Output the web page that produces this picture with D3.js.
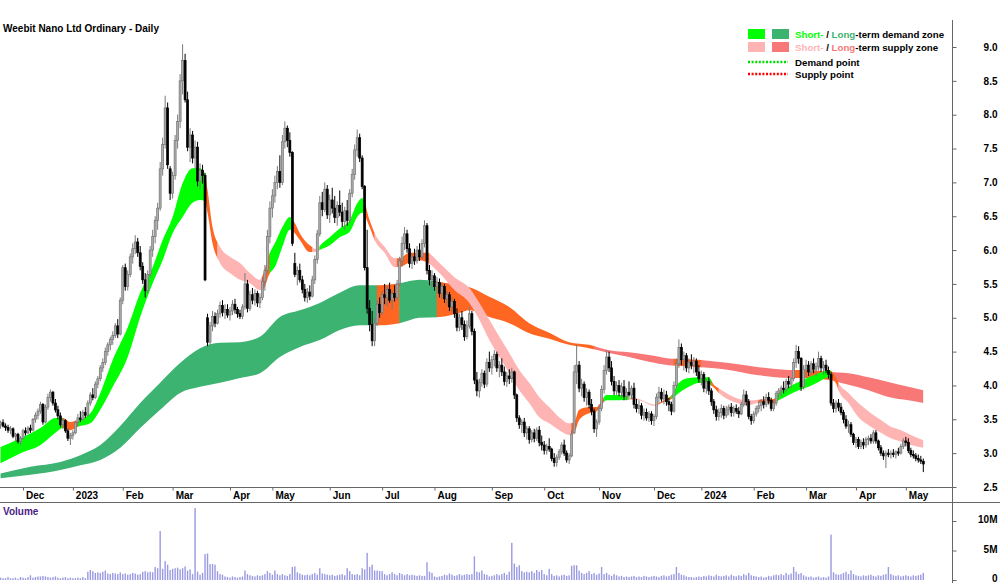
<!DOCTYPE html>
<html><head><meta charset="utf-8">
<script src="https://cdn.jsdelivr.net/npm/d3@7"></script>
<style>
html,body{margin:0;padding:0;background:#fff;}
svg{display:block;font-family:"Liberation Sans",Arial,sans-serif;}
</style></head><body>
<svg id="chart" width="1000" height="583"></svg>
<script>
const title = "Weebit Nano Ltd Ordinary - Daily";
const firstDay = "2022-11-18";
const holidays = ["2022-12-26","2022-12-27","2023-01-02","2023-01-26","2023-04-07","2023-04-10","2023-04-25","2023-06-12","2023-12-25","2023-12-26","2024-01-01","2024-01-26","2024-03-29","2024-04-01","2024-04-25"];

const opens = [3.42,3.45,3.40,3.38,3.34,3.36,3.25,3.28,3.17,3.22,
3.33,3.30,3.37,3.34,3.50,3.56,3.62,3.72,3.46,3.68,
3.82,3.90,3.74,3.64,3.55,3.42,3.48,3.33,3.22,3.26,
3.30,3.45,3.52,3.50,3.60,3.56,3.74,3.86,3.82,4.02,
4.10,4.26,4.34,4.50,4.60,4.68,4.74,4.88,4.76,5.26,
5.74,5.46,5.64,5.90,6.02,6.12,5.96,5.76,5.56,5.40,
5.64,6.00,6.20,6.44,6.62,7.20,7.56,8.10,7.20,6.84,
7.10,7.62,7.90,8.50,8.80,8.22,7.52,7.70,7.36,7.52,
7.02,7.18,7.10,5.00,4.64,4.88,5.02,4.92,5.06,5.18,
5.08,5.12,5.04,5.10,5.20,5.12,5.06,5.02,5.16,5.50,
5.14,5.34,5.26,5.36,5.22,5.30,5.54,5.70,6.20,6.62,
6.80,7.00,7.16,7.00,7.60,7.80,7.62,7.44,5.80,5.64,
5.70,5.56,5.42,5.30,5.38,5.32,5.56,5.86,6.24,6.70,
6.60,6.90,6.52,6.74,6.62,6.48,6.66,6.56,6.42,6.58,
6.44,6.84,7.12,7.48,7.66,7.36,6.94,5.74,5.14,4.90,
4.66,4.92,5.20,5.08,5.34,5.30,5.42,5.26,5.36,5.30,
5.50,5.84,6.10,6.24,6.02,5.80,5.90,5.84,6.00,5.90,
6.10,6.36,5.70,5.56,5.62,5.46,5.52,5.36,5.46,5.28,
5.34,5.16,5.24,5.06,4.86,5.00,4.90,4.72,4.88,5.06,
4.80,4.08,3.92,4.04,4.18,4.02,4.34,4.26,4.38,4.46,
4.26,4.30,4.20,4.06,4.14,4.10,4.20,3.86,3.52,3.42,
3.46,3.30,3.36,3.20,3.30,3.22,3.34,3.16,3.12,3.04,
3.10,3.06,2.92,2.86,2.94,3.02,3.12,3.00,2.90,2.96,
3.30,4.20,4.30,3.96,4.02,3.82,3.90,3.72,3.62,3.36,
3.46,3.66,3.94,4.22,4.42,4.26,4.06,3.92,4.00,3.90,
3.98,3.84,3.90,3.86,3.96,3.72,3.66,3.70,3.56,3.60,
3.52,3.58,3.48,3.54,3.82,3.90,3.80,3.86,3.76,3.72,
3.62,4.00,4.32,4.56,4.38,4.44,4.26,4.34,4.30,4.36,
4.20,4.10,4.16,3.96,4.06,3.92,3.76,3.64,3.54,3.60,
3.66,3.56,3.64,3.68,3.60,3.66,3.62,3.58,3.72,3.86,
3.76,3.54,3.48,3.58,3.66,3.70,3.76,3.72,3.82,3.78,
3.66,3.74,3.88,3.92,3.96,3.94,4.06,4.02,4.10,4.34,
4.50,4.40,3.98,4.24,4.30,4.20,4.32,4.24,4.28,4.40,
4.26,4.30,4.22,4.16,3.74,3.66,3.74,3.68,3.60,3.50,
3.40,3.42,3.28,3.16,3.20,3.10,3.16,3.12,3.20,3.22,
3.18,3.30,3.18,3.08,3.00,2.96,3.00,2.98,3.00,2.98,
3.02,3.00,3.10,3.18,3.16,3.04,2.98,2.96,2.92,2.90,2.88];

const highs = [3.48,3.50,3.44,3.42,3.40,3.38,3.30,3.30,3.25,3.36,
3.38,3.40,3.42,3.52,3.60,3.66,3.76,3.74,3.72,3.88,
3.94,3.92,3.80,3.70,3.60,3.52,3.50,3.36,3.30,3.34,
3.48,3.58,3.62,3.64,3.68,3.78,3.90,3.96,4.06,4.14,
4.30,4.40,4.56,4.64,4.72,4.80,4.92,4.98,5.30,5.78,
5.80,5.70,5.95,6.10,6.22,6.18,6.06,5.82,5.66,5.70,
6.06,6.30,6.50,6.70,7.30,7.66,8.28,8.18,7.24,7.16,
7.70,8.00,8.60,9.04,8.90,8.34,7.80,7.76,7.62,7.60,
7.28,7.26,7.14,5.06,4.94,5.10,5.08,5.12,5.24,5.26,
5.20,5.20,5.16,5.26,5.28,5.16,5.12,5.20,5.66,5.56,
5.40,5.44,5.42,5.40,5.36,5.60,5.78,6.30,6.72,6.90,
7.10,7.24,7.40,7.70,7.90,7.84,7.74,7.46,5.96,5.76,
5.80,5.62,5.50,5.44,5.48,5.62,5.92,6.30,6.80,6.86,
7.00,6.96,6.82,6.92,6.80,6.72,6.88,6.70,6.64,6.74,
6.90,7.20,7.56,7.78,7.72,7.40,6.96,6.30,5.26,5.10,
5.00,5.26,5.30,5.40,5.50,5.46,5.52,5.40,5.48,5.56,
5.90,6.20,6.34,6.30,6.10,5.96,6.02,6.06,6.10,6.16,
6.44,6.40,5.78,5.70,5.66,5.60,5.58,5.52,5.50,5.40,
5.38,5.30,5.28,5.14,5.06,5.10,4.96,4.96,5.16,5.10,
4.84,4.20,4.10,4.24,4.22,4.40,4.50,4.44,4.52,4.50,
4.36,4.40,4.28,4.20,4.24,4.26,4.22,3.88,3.56,3.50,
3.52,3.40,3.40,3.34,3.36,3.38,3.40,3.26,3.18,3.14,
3.22,3.08,3.00,2.98,3.06,3.16,3.20,3.04,3.00,3.34,
4.30,4.60,4.36,4.10,4.06,3.96,3.94,3.80,3.66,3.50,
3.72,4.00,4.30,4.52,4.50,4.36,4.14,4.06,4.08,4.04,
4.08,3.96,4.06,4.00,4.04,3.80,3.78,3.74,3.66,3.66,
3.62,3.62,3.58,3.88,3.98,3.96,3.94,3.92,3.82,3.76,
4.06,4.40,4.68,4.62,4.50,4.48,4.40,4.46,4.42,4.40,
4.30,4.22,4.20,4.10,4.12,3.96,3.80,3.70,3.66,3.72,
3.70,3.70,3.72,3.74,3.70,3.72,3.68,3.76,3.94,3.92,
3.80,3.58,3.62,3.70,3.76,3.80,3.84,3.88,3.90,3.82,
3.78,3.92,3.96,4.00,4.06,4.10,4.14,4.12,4.40,4.60,
4.58,4.42,4.30,4.38,4.36,4.36,4.40,4.34,4.50,4.44,
4.36,4.38,4.28,4.20,3.80,3.78,3.80,3.74,3.64,3.56,
3.48,3.46,3.30,3.24,3.24,3.20,3.22,3.24,3.26,3.28,
3.34,3.34,3.20,3.12,3.04,3.04,3.06,3.04,3.06,3.04,
3.08,3.14,3.22,3.24,3.22,3.08,3.04,3.00,2.98,2.96,2.92];

const lows = [3.36,3.38,3.33,3.30,3.28,3.22,3.18,3.14,3.12,3.20,
3.26,3.28,3.30,3.32,3.45,3.50,3.58,3.42,3.44,3.64,
3.76,3.70,3.60,3.50,3.38,3.36,3.30,3.18,3.12,3.20,
3.28,3.40,3.46,3.48,3.52,3.54,3.70,3.78,3.80,3.96,
4.06,4.20,4.30,4.44,4.52,4.60,4.70,4.70,4.74,5.20,
5.40,5.40,5.60,5.80,5.94,5.90,5.70,5.50,5.30,5.36,
5.60,5.90,6.10,6.30,6.58,7.10,7.50,7.20,6.74,6.76,
7.04,7.50,7.80,8.30,8.18,7.46,7.30,7.28,7.20,6.94,
6.90,6.98,5.54,4.58,4.60,4.80,4.86,4.90,5.00,5.02,
4.98,5.00,4.96,5.04,5.06,5.00,4.98,4.98,5.12,5.08,
5.10,5.20,5.18,5.16,5.14,5.26,5.40,5.66,6.10,6.48,
6.70,6.90,6.92,6.96,7.50,7.52,7.38,6.06,5.60,5.48,
5.52,5.36,5.24,5.22,5.26,5.30,5.50,5.80,6.20,6.50,
6.56,6.46,6.40,6.54,6.40,6.36,6.50,6.34,6.30,6.36,
6.40,6.78,7.04,7.38,7.30,6.90,5.70,5.06,4.80,4.58,
4.58,4.88,5.00,5.04,5.20,5.16,5.22,5.12,5.24,5.26,
5.46,5.76,6.00,5.96,5.74,5.72,5.78,5.80,5.84,5.86,
6.04,5.64,5.48,5.44,5.40,5.36,5.30,5.28,5.22,5.18,
5.10,5.08,5.00,4.80,4.80,4.82,4.66,4.68,4.84,4.74,
4.02,3.84,3.82,3.98,3.96,3.98,4.20,4.16,4.28,4.20,
4.12,4.14,4.00,3.98,4.02,4.04,3.80,3.46,3.36,3.30,
3.24,3.20,3.14,3.16,3.16,3.18,3.10,3.04,2.98,2.98,
3.02,2.88,2.80,2.80,2.90,2.98,2.96,2.86,2.84,2.94,
3.28,4.02,3.90,3.84,3.76,3.70,3.66,3.56,3.30,3.24,
3.42,3.62,3.88,4.16,4.20,4.00,3.86,3.86,3.84,3.82,
3.78,3.78,3.84,3.80,3.66,3.60,3.58,3.50,3.48,3.48,
3.46,3.42,3.40,3.50,3.74,3.76,3.72,3.70,3.62,3.56,
3.60,3.96,4.26,4.30,4.22,4.20,4.18,4.24,4.18,4.14,
4.04,4.00,3.90,3.88,3.86,3.70,3.58,3.48,3.48,3.52,
3.50,3.52,3.56,3.54,3.54,3.58,3.52,3.56,3.68,3.70,
3.50,3.42,3.44,3.54,3.60,3.62,3.66,3.68,3.72,3.62,
3.62,3.70,3.80,3.84,3.88,3.90,3.96,3.96,4.06,4.26,
4.32,3.92,3.94,4.12,4.14,4.16,4.18,4.14,4.22,4.20,
4.16,4.18,4.10,3.70,3.60,3.60,3.62,3.56,3.44,3.36,
3.30,3.24,3.12,3.08,3.06,3.06,3.06,3.08,3.12,3.14,
3.14,3.14,3.04,2.96,2.90,2.78,2.94,2.92,2.94,2.92,
2.96,2.98,3.06,3.10,3.00,2.94,2.92,2.88,2.86,2.84,2.72];

const closes = [3.45,3.40,3.38,3.34,3.36,3.25,3.28,3.17,3.22,3.33,
3.30,3.37,3.34,3.50,3.56,3.62,3.72,3.46,3.68,3.82,
3.90,3.74,3.64,3.55,3.42,3.48,3.33,3.22,3.26,3.30,
3.45,3.52,3.50,3.60,3.56,3.74,3.86,3.82,4.02,4.10,
4.26,4.34,4.50,4.60,4.68,4.74,4.88,4.76,5.26,5.74,
5.46,5.64,5.90,6.02,6.12,5.96,5.76,5.56,5.40,5.64,
6.00,6.20,6.44,6.62,7.20,7.56,8.10,7.26,6.84,7.10,
7.62,7.90,8.50,8.80,8.22,7.52,7.70,7.36,7.52,7.02,
7.18,7.10,5.56,4.64,4.88,5.02,4.92,5.06,5.18,5.08,
5.12,5.04,5.10,5.20,5.12,5.06,5.02,5.16,5.50,5.14,
5.34,5.26,5.36,5.22,5.30,5.54,5.70,6.20,6.62,6.80,
7.00,7.16,7.00,7.60,7.80,7.62,7.44,6.10,5.64,5.70,
5.56,5.42,5.30,5.38,5.32,5.56,5.86,6.24,6.70,6.60,
6.90,6.52,6.74,6.62,6.48,6.66,6.56,6.42,6.58,6.44,
6.84,7.12,7.48,7.66,7.36,6.94,5.74,5.14,4.90,4.66,
4.92,5.20,5.08,5.34,5.30,5.42,5.26,5.36,5.30,5.50,
5.84,6.10,6.24,6.02,5.80,5.90,5.84,6.00,5.90,6.10,
6.36,5.70,5.56,5.62,5.46,5.52,5.36,5.46,5.28,5.34,
5.16,5.24,5.06,4.86,5.00,4.90,4.72,4.88,5.06,4.80,
4.08,3.92,4.04,4.18,4.02,4.34,4.26,4.38,4.46,4.26,
4.30,4.20,4.06,4.14,4.10,4.20,3.86,3.52,3.42,3.46,
3.30,3.36,3.20,3.30,3.22,3.34,3.16,3.12,3.04,3.10,
3.06,2.92,2.86,2.94,3.02,3.12,3.00,2.90,2.96,3.28,
4.20,4.30,3.96,4.02,3.82,3.90,3.72,3.62,3.36,3.46,
3.66,3.94,4.22,4.42,4.26,4.06,3.92,4.00,3.90,3.98,
3.84,3.90,3.86,3.96,3.72,3.66,3.70,3.56,3.60,3.52,
3.58,3.48,3.54,3.82,3.90,3.80,3.86,3.76,3.72,3.62,
4.00,4.32,4.56,4.38,4.44,4.26,4.34,4.30,4.36,4.20,
4.10,4.16,3.96,4.06,3.92,3.76,3.64,3.54,3.60,3.66,
3.56,3.64,3.68,3.60,3.66,3.62,3.58,3.72,3.86,3.76,
3.54,3.48,3.58,3.66,3.70,3.76,3.72,3.82,3.78,3.66,
3.74,3.88,3.92,3.96,3.94,4.06,4.02,4.10,4.34,4.50,
4.40,3.98,4.24,4.30,4.20,4.32,4.24,4.28,4.40,4.26,
4.30,4.22,4.16,3.74,3.66,3.74,3.68,3.60,3.50,3.40,
3.42,3.28,3.16,3.20,3.10,3.16,3.12,3.20,3.22,3.18,
3.30,3.18,3.08,3.00,2.96,3.00,2.98,3.00,2.98,3.02,
3.00,3.10,3.18,3.16,3.04,2.98,2.96,2.92,2.90,2.88,2.84];

// volume in millions of shares
const volumes = [0.4,0.3,0.3,0.5,0.3,0.3,0.4,0.2,0.5,0.4,
0.3,0.5,0.8,0.4,0.5,0.6,0.6,0.7,0.6,0.5,
0.4,0.5,0.6,0.4,0.3,0.4,0.5,0.3,0.4,0.3,
0.3,0.4,0.3,0.5,0.3,1.4,1.7,1.5,1.2,1.3,
1.2,1.4,1.6,1.1,1.0,1.2,1.1,1.0,1.3,1.0,
1.1,0.9,1.0,1.2,1.1,0.9,1.0,1.4,1.5,1.3,
1.4,1.3,2.2,2.0,8.3,1.9,3.2,2.6,1.7,1.9,
2.0,2.1,1.8,2.0,2.3,1.6,1.8,1.0,12.2,1.4,
0.9,1.2,4.4,4.5,2.7,2.7,2.6,1.5,1.0,0.9,
0.6,0.5,0.4,0.6,0.5,0.4,0.5,0.6,1.6,1.0,
0.8,0.7,0.6,0.8,0.7,0.8,1.0,1.5,1.2,0.9,
1.6,1.0,0.8,1.0,0.8,0.7,1.0,2.2,2.3,1.3,
1.1,0.9,0.8,0.9,0.8,1.0,1.2,0.9,2.0,1.1,
1.0,0.9,0.8,0.9,0.7,0.8,0.9,1.0,0.8,2.0,
1.5,1.0,0.9,1.0,0.8,2.0,1.8,4.6,2.2,2.6,
1.6,1.6,1.5,1.5,1.0,0.8,1.0,1.3,1.0,0.8,
1.2,1.0,0.8,1.0,0.8,0.9,0.8,0.7,0.8,0.7,
0.7,3.0,1.4,1.2,0.6,0.5,0.6,0.7,0.9,0.8,
1.1,0.9,0.7,0.8,1.0,0.8,0.9,1.0,0.9,1.0,
4.0,1.4,1.3,1.6,1.0,0.9,0.6,0.7,0.8,1.0,
0.8,1.0,1.2,0.9,1.4,6.3,2.8,2.2,2.5,1.5,
1.3,1.4,1.3,1.5,1.2,1.7,1.4,1.7,1.0,0.8,
1.9,1.0,0.7,0.8,0.6,0.8,0.9,0.7,0.8,2.4,
2.5,2.5,1.6,1.2,1.0,1.2,1.5,1.0,1.2,0.9,
1.1,2.2,1.0,1.2,0.9,0.7,1.0,0.8,0.6,0.7,
0.5,0.6,0.5,0.6,0.7,0.5,0.6,0.5,0.7,0.6,
0.5,0.6,0.7,0.6,0.5,0.7,0.8,0.6,0.7,0.9,
1.0,2.2,1.2,0.9,0.8,0.6,0.5,0.5,0.4,0.5,
0.6,0.5,0.7,0.6,0.8,0.7,0.6,0.9,0.7,0.6,
0.7,0.8,0.6,0.9,0.7,0.6,0.8,0.7,1.0,0.8,
1.2,0.8,0.7,0.6,0.5,0.6,0.4,0.5,0.7,0.6,
0.8,0.9,0.8,1.0,0.8,1.2,0.9,1.1,2.2,1.4,
1.0,1.2,0.8,0.6,0.5,0.6,0.4,0.5,0.6,0.4,
0.5,0.4,0.6,7.7,1.3,1.0,0.9,1.0,1.2,1.4,
1.0,1.6,1.0,0.8,0.7,0.6,0.8,0.7,0.8,0.9,
0.7,0.6,0.8,0.7,0.9,1.0,2.2,1.0,0.8,0.7,
0.8,0.6,0.7,0.8,0.7,0.6,0.8,0.7,0.8,0.9,1.2];

// short-term zone (upper / lower edge), sampled at trading-day indices
const stDays  = [0,8,16,22,25,28,31,36,40,45,51,56,61,65,69,73,77,80,82,83,85,88,92,96,100,104,105,108,110,113,116,118,120,124,127,128,132,136,140,143,145,148,150,154,158,160,164,168,171,176,182,188,192,196,200,204,208,212,216,220,224,228,230,232,236,239,243,248,252,256,262,266,269,272,276,280,284,286,288,294,300,304,310,312,316,320,324,328,332,335,336,340,344,349,353,357,361,365,370];
const stUpper = [3.09,3.22,3.37,3.52,3.52,3.46,3.49,3.59,3.89,4.38,4.86,5.37,5.75,6.15,6.49,6.99,7.21,7.21,7.12,6.89,6.34,6.05,5.90,5.81,5.66,5.56,5.62,5.96,6.10,6.34,6.49,6.40,6.25,6.07,6.01,6.06,6.19,6.32,6.44,6.69,6.77,6.44,6.25,6.05,5.88,5.88,5.96,5.96,5.96,5.81,5.60,5.44,5.22,4.97,4.72,4.48,4.23,4.04,3.83,3.68,3.53,3.44,3.46,3.64,3.68,3.68,3.86,3.86,3.84,3.80,3.72,3.78,3.85,4.04,4.11,4.12,4.12,4.01,3.96,3.83,3.78,3.79,3.80,3.89,3.98,4.05,4.12,4.18,4.23,4.12,4.04,3.89,3.74,3.59,3.49,3.39,3.34,3.27,3.19];
const stLower = [2.85,3.00,3.12,3.30,3.37,3.34,3.39,3.44,3.64,3.98,4.42,5.01,5.51,5.85,6.25,6.49,6.70,6.74,6.72,6.55,6.10,5.81,5.66,5.56,5.51,5.41,5.41,5.66,5.75,6.05,6.30,6.25,6.15,5.97,5.98,6.00,6.07,6.19,6.27,6.49,6.55,6.34,6.15,5.96,5.75,5.75,5.82,5.85,5.82,5.66,5.41,5.22,4.97,4.67,4.42,4.18,3.93,3.74,3.53,3.44,3.34,3.27,3.30,3.49,3.59,3.62,3.78,3.78,3.79,3.78,3.70,3.76,3.80,3.89,3.98,4.04,4.02,3.97,3.89,3.76,3.71,3.74,3.74,3.78,3.86,3.93,3.98,4.05,4.12,4.03,3.93,3.74,3.53,3.39,3.30,3.22,3.17,3.12,3.08];
// zone state: d = demand, s = supply, n = neutral
const stZones = [[0,25,"d"],[25,31,"n"],[31,82,"d"],[82,87,"n"],[87,105,"s"],[105,108,"n"],[108,117,"d"],[117,125,"n"],[125,128,"s"],[128,146,"d"],[146,150,"n"],[150,159,"s"],[159,172,"n"],[172,229,"s"],[229,242,"n"],[242,252,"d"],[252,263,"s"],[263,269,"n"],[269,285,"d"],[285,288,"n"],[288,304,"s"],[304,311,"n"],[311,333,"d"],[333,336,"n"],[336,370,"s"]];

// long-term zone
const ltDays  = [0,12,24,32,40,48,56,64,72,80,88,96,104,112,120,128,136,144,152,160,168,176,184,188,196,204,212,220,228,236,244,252,260,268,280,292,304,316,324,332,340,348,356,364,370];
const ltUpper = [2.70,2.80,2.87,2.97,3.12,3.40,3.74,4.04,4.33,4.55,4.63,4.64,4.72,5.01,5.11,5.22,5.37,5.48,5.48,5.51,5.56,5.53,5.48,5.45,5.31,5.16,4.92,4.78,4.64,4.60,4.52,4.49,4.45,4.40,4.38,4.33,4.27,4.23,4.23,4.20,4.18,4.12,4.05,3.98,3.93];
const ltLower = [2.63,2.68,2.75,2.82,2.90,3.08,3.37,3.64,3.89,3.98,4.04,4.11,4.18,4.42,4.57,4.67,4.82,4.89,4.89,4.92,5.00,5.01,5.07,5.11,5.01,4.92,4.77,4.69,4.60,4.55,4.48,4.42,4.35,4.30,4.27,4.23,4.15,4.11,4.11,4.08,4.01,3.93,3.83,3.78,3.74];
const ltZones = [[0,151,"d"],[151,160,"n"],[160,175,"d"],[175,238,"n"],[238,270,"s"],[270,281,"n"],[281,318,"s"],[318,332,"n"],[332,370,"s"]];

const priceTicks = [2.5,3.0,3.5,4.0,4.5,5.0,5.5,6.0,6.5,7.0,7.5,8.0,8.5,9.0];
const volumeTicks = [0,5,10];
const volumeTickLabels = ["0","5M","10M"];

const legendRows = [
  {parts:[["Short-","#00ff00"],[" / ","#000"],["Long","#3cb371"],["-term demand zone","#000"]], sw:["#00ff00","#3cb371"]},
  {parts:[["Short-","#ffb4b4"],[" / ","#000"],["Long","#f87878"],["-term supply zone","#000"]], sw:["#ffb4b4","#f87878"]}
];
const legendLines = [["Demand point","#00e000"],["Supply point","#ff0000"]];

// ---------------- drawing ----------------
const svg = d3.select("#chart");
const defs = svg.append("defs");
const n = Math.min(opens.length, highs.length, lows.length, closes.length, volumes.length);

// trading calendar
const fmtDay = d3.utcFormat("%Y-%m-%d");
const dates = [];
let cur = d3.utcParse("%Y-%m-%d")(firstDay);
while (dates.length < n) {
  const wd = cur.getUTCDay();
  if (wd !== 0 && wd !== 6 && !holidays.includes(fmtDay(cur))) dates.push(cur);
  cur = d3.utcDay.offset(cur, 1);
}
const monthStarts = [];
for (let k = 1; k < n; k++) if (dates[k].getUTCMonth() !== dates[k-1].getUTCMonth()) monthStarts.push(k);

const x = d3.scaleLinear().domain([0, 370]).range([0.55, 923.3]);
const yP = d3.scaleLinear().domain([2.5, 9]).range([487, 47]);
const yV = d3.scaleLinear().domain([0, 10]).range([580, 521]);
const axisX = 952;

const zoneColorsST = {d:"#00ff00", n:"#ff6622", s:"#ffb4b4"};
const zoneColorsLT = {d:"#3cb371", n:"#ff6622", s:"#f87878"};

function drawBand(days, up, lo, zones, colors, id) {
  const pts = days.map((d,k)=>({i:d, u:up[k], l:lo[k]}));
  const area = d3.area().x(d=>x(d.i)).y0(d=>yP(d.l)).y1(d=>yP(d.u)).curve(d3.curveMonotoneX);
  const pd = area(pts);
  const g = svg.append("g");
  zones.forEach((z,k)=>{
    const cid = id + "_" + k;
    const x0 = x(z[0]) - (k===0 ? 2 : 0.3);
    const x1 = x(z[1]) + 0.3;
    defs.append("clipPath").attr("id", cid).append("rect")
      .attr("x", x0).attr("y", 0).attr("width", x1 - x0).attr("height", 583);
    g.append("path").attr("d", pd).attr("fill", colors[z[2]]).attr("clip-path", `url(#${cid})`);
  });
}
drawBand(ltDays, ltUpper, ltLower, ltZones, zoneColorsLT, "lt");
drawBand(stDays, stUpper, stLower, stZones, zoneColorsST, "st");

// candles
const candles = d3.range(n).map(i=>({i, o:opens[i], h:highs[i], l:lows[i], c:closes[i]}));
const cg = svg.append("g");
cg.selectAll("line.wick").data(candles).join("line")
  .attr("x1", d=>x(d.i)).attr("x2", d=>x(d.i))
  .attr("y1", d=>yP(d.h)).attr("y2", d=>yP(d.l))
  .attr("stroke", d=>d.c >= d.o ? "#7a7a7a" : "#000").attr("stroke-width", 1);
cg.selectAll("rect.body").data(candles).join("rect")
  .attr("x", d=>x(d.i) - 1).attr("width", 2)
  .attr("y", d=>yP(Math.max(d.o, d.c)))
  .attr("height", d=>Math.max(1, Math.abs(yP(d.o) - yP(d.c))))
  .attr("fill", d=>d.c >= d.o ? "#acacac" : "#000")
  .attr("stroke", d=>d.c >= d.o ? "#767676" : "#000").attr("stroke-width", 0.7);

// volume bars
svg.append("g").selectAll("rect").data(d3.range(n)).join("rect")
  .attr("x", i=>x(i) - 0.7).attr("width", 1.4)
  .attr("y", i=>yV(volumes[i])).attr("height", i=>yV(0) - yV(volumes[i]))
  .attr("fill", "#9a9ae2");

// frame lines
svg.append("line").attr("x1",0).attr("x2",axisX).attr("y1",487.5).attr("y2",487.5).attr("stroke","#666");
svg.append("line").attr("x1",0).attr("x2",1000).attr("y1",502.5).attr("y2",502.5).attr("stroke","#666");
svg.append("line").attr("x1",axisX+0.5).attr("x2",axisX+0.5).attr("y1",20).attr("y2",583).attr("stroke","#666");

const textStyle = s => s.attr("font-size", 10).attr("font-weight", "bold").attr("font-family", '"Liberation Sans", Arial, sans-serif');

// x axis
const xAxis = d3.axisBottom(x).tickValues(monthStarts).tickSize(3)
  .tickFormat(i => dates[i].getUTCMonth() === 0 ? d3.utcFormat("%Y")(dates[i]) : d3.utcFormat("%b")(dates[i]));
const gx = svg.append("g").attr("transform", "translate(0,487.5)").call(xAxis);
gx.select(".domain").remove();
gx.selectAll(".tick line").attr("stroke", "#666");
gx.selectAll(".tick text").attr("text-anchor","start").attr("x", 2.5).attr("y", 4).attr("dy","0.71em").attr("fill","#000").call(textStyle);

// price axis
const pAxis = d3.axisRight(yP).tickValues(priceTicks).tickSize(4).tickFormat(d3.format(".1f"));
const gp = svg.append("g").attr("transform", `translate(${axisX+0.5},0)`).call(pAxis);
gp.select(".domain").remove();
gp.selectAll(".tick line").attr("stroke", "#666");
gp.selectAll(".tick text").attr("text-anchor","end").attr("x", 45).attr("fill","#000").call(textStyle);

// volume axis
const vAxis = d3.axisRight(yV).tickValues(volumeTicks).tickSize(4).tickFormat((d,k)=>volumeTickLabels[k]);
const gv = svg.append("g").attr("transform", `translate(${axisX+0.5},0)`).call(vAxis);
gv.select(".domain").remove();
gv.selectAll(".tick line").attr("stroke", "#666");
gv.selectAll(".tick text").attr("text-anchor","end").attr("x", 45).attr("y", -1.5).attr("fill","#000").call(textStyle);

// titles
svg.append("text").attr("x", 3).attr("y", 32).attr("fill","#000").text(title).call(textStyle);
svg.append("text").attr("x", 3).attr("y", 515).attr("fill","#4b1e87").text("Volume").call(textStyle);

// legend
legendRows.forEach((r,k)=>{
  const yy = 29 + k*13;
  svg.append("rect").attr("x",748).attr("y",yy).attr("width",17).attr("height",10).attr("fill",r.sw[0]);
  svg.append("rect").attr("x",772).attr("y",yy).attr("width",17).attr("height",10).attr("fill",r.sw[1]);
  const t = svg.append("text").attr("x",795).attr("y",yy+9).call(textStyle).attr("font-size", 9.7);
  r.parts.forEach(p=>t.append("tspan").attr("fill",p[1]).text(p[0]));
});
legendLines.forEach((r,k)=>{
  const yy = 62 + k*12;
  svg.append("line").attr("x1",748).attr("x2",788).attr("y1",yy).attr("y2",yy)
    .attr("stroke",r[1]).attr("stroke-width",2.5).attr("stroke-dasharray","2,1.6");
  svg.append("text").attr("x",795).attr("y",yy+3.5).attr("fill","#000").text(r[0]).call(textStyle).attr("font-size", 9.7);
});
</script>
</body></html>
